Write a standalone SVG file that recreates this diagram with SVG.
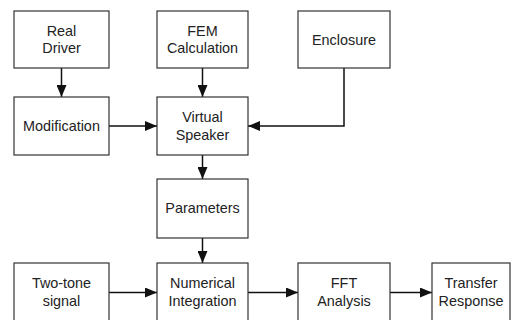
<svg xmlns="http://www.w3.org/2000/svg" width="512" height="320" viewBox="0 0 512 320">
<style>
.box{fill:#fff;stroke:#333;stroke-width:1.2}
.t{font-family:"Liberation Sans",Arial,sans-serif;font-size:14.4px;fill:#222;text-anchor:middle}
.c{fill:none;stroke:#111;stroke-width:1.5}
</style>
<defs>
<marker id="a" markerUnits="userSpaceOnUse" markerWidth="12" markerHeight="10" refX="12" refY="5" orient="auto">
<path d="M0,0 L12,5 L0,10 z" fill="#111"/>
</marker>
</defs>
<rect width="512" height="320" fill="#fff"/>
<g id="connectors">
<path class="c" d="M61.5,68 V97" marker-end="url(#a)"/>
<path class="c" d="M202.5,68 V97" marker-end="url(#a)"/>
<path class="c" d="M109,126 H157" marker-end="url(#a)"/>
<path class="c" d="M344,68 V126 H248" marker-end="url(#a)"/>
<path class="c" d="M202.5,155 V179" marker-end="url(#a)"/>
<path class="c" d="M202.5,238 V263" marker-end="url(#a)"/>
<path class="c" d="M109,292.5 H157" marker-end="url(#a)"/>
<path class="c" d="M248,292.5 H298" marker-end="url(#a)"/>
<path class="c" d="M390,292.5 H432" marker-end="url(#a)"/>
</g>
<g id="real-driver"><rect class="box" x="14" y="11" width="95" height="57"/><text class="t" x="61.5" y="35.5">Real</text><text class="t" x="61.5" y="53">Driver</text></g>
<g id="fem"><rect class="box" x="157" y="11" width="91" height="57"/><text class="t" x="202.5" y="35.5">FEM</text><text class="t" x="202.5" y="53">Calculation</text></g>
<g id="enclosure"><rect class="box" x="298" y="11" width="92" height="57"/><text class="t" x="344" y="44.5">Enclosure</text></g>
<g id="modification"><rect class="box" x="14" y="97" width="95" height="58"/><text class="t" x="61.5" y="131">Modification</text></g>
<g id="virtual-speaker"><rect class="box" x="157" y="97" width="91" height="58"/><text class="t" x="202.5" y="122">Virtual</text><text class="t" x="202.5" y="139.5">Speaker</text></g>
<g id="parameters"><rect class="box" x="157" y="179" width="91" height="59"/><text class="t" x="202.5" y="213">Parameters</text></g>
<g id="two-tone"><rect class="box" x="14" y="263" width="95" height="60"/><text class="t" x="61.5" y="288">Two-tone</text><text class="t" x="61.5" y="306">signal</text></g>
<g id="numerical"><rect class="box" x="157" y="263" width="91" height="60"/><text class="t" x="202.5" y="288">Numerical</text><text class="t" x="202.5" y="306">Integration</text></g>
<g id="fft"><rect class="box" x="298" y="263" width="92" height="60"/><text class="t" x="344" y="288">FFT</text><text class="t" x="344" y="306">Analysis</text></g>
<g id="transfer"><rect class="box" x="432" y="263" width="78" height="60"/><text class="t" x="471" y="288">Transfer</text><text class="t" x="471" y="306">Response</text></g>
</svg>
